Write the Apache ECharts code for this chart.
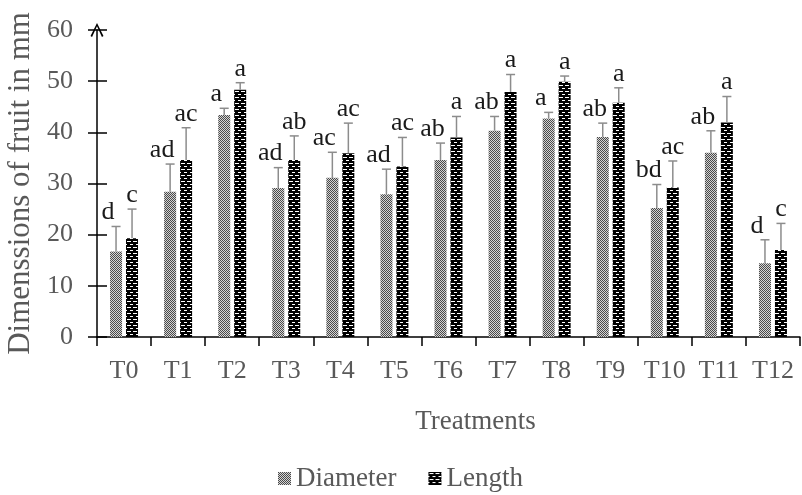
<!DOCTYPE html>
<html>
<head>
<meta charset="utf-8">
<script src="https://cdn.jsdelivr.net/npm/echarts@6/dist/echarts.min.js"></script>
<style>
  html, body { margin: 0; padding: 0; background: #fff; }
  #chart { width: 802px; height: 495px; }
</style>
</head>
<body>
<div id="chart"></div>
<script>
// 数据
const categories = ['T0', 'T1', 'T2', 'T3', 'T4', 'T5', 'T6', 'T7', 'T8', 'T9', 'T10', 'T11', 'T12']
const diameter = [16.7, 28.4, 43.4, 29.1, 31.1, 27.9, 34.6, 40.3, 42.7, 39.1, 25.2, 36.0, 14.4]
const diameterErr = [4.9, 5.4, 1.3, 4.0, 5.0, 4.9, 3.3, 2.8, 1.2, 2.7, 4.6, 4.3, 4.6]
const diameterLetters = ['d', 'ad', 'a', 'ad', 'ac', 'ad', 'ab', 'ab', 'a', 'ab', 'bd', 'ab', 'd']
const length = [19.3, 34.6, 48.3, 34.6, 35.9, 33.3, 39.0, 47.9, 49.9, 45.8, 29.2, 41.9, 17.0]
const lengthErr = [5.7, 6.3, 1.4, 4.7, 5.9, 5.7, 4.1, 3.4, 1.1, 2.9, 5.2, 5.1, 5.2]
const lengthLetters = ['c', 'ac', 'a', 'ab', 'ac', 'ac', 'a', 'a', 'a', 'a', 'ac', 'a', 'c']
const yTicks = [0, 10, 20, 30, 40, 50, 60]

const FONT = '"Liberation Serif", "DejaVu Serif", serif'
const GREY = '#595959'

// 填充图案
const makePattern = (size, draw) => {
  const c = document.createElement('canvas')
  c.width = size
  c.height = size
  draw(c.getContext('2d'))
  return { image: c, repeat: 'repeat' }
}

const diameterFill = makePattern(2, ctx => {
  ctx.fillStyle = '#d4d4d4'
  ctx.fillRect(0, 0, 2, 2)
  ctx.fillStyle = '#4a4a4a'
  ctx.fillRect(0, 0, 1, 1)
  ctx.fillRect(1, 1, 1, 1)
})

const lengthFill = makePattern(6, ctx => {
  ctx.fillStyle = '#000'
  ctx.fillRect(0, 0, 6, 6)
  ctx.fillStyle = '#fff'
  ctx.fillRect(1, 1, 4, 1)
  ctx.fillRect(4, 4, 2, 1)
  ctx.fillRect(0, 4, 1, 1)
})

// 误差线 + 字母
const errRender = (offset, labelShift) => (params, api) => {
  const i = api.value(0)
  const v = api.value(1)
  const e = api.value(2)
  const x = api.coord([i, 0])[0] + offset
  const y0 = api.coord([i, v])[1]
  const y1 = api.coord([i, v + e])[1]
  return {
    type: 'group',
    children: [
      { type: 'line', shape: { x1: x, y1: y0, x2: x, y2: y1 }, style: { stroke: '#8c8c8c', lineWidth: 1.5 } },
      { type: 'line', shape: { x1: x - 4.5, y1: y1, x2: x + 4.5, y2: y1 }, style: { stroke: '#8c8c8c', lineWidth: 1.5 } },
      {
        type: 'text',
        style: {
          text: api.value(3),
          x: x + labelShift,
          y: y1 - 1,
          align: 'center',
          verticalAlign: 'bottom',
          font: '26px ' + FONT,
          fill: '#1a1a1a',
        },
      },
    ],
  }
}

let chart = echarts.init(document.getElementById('chart'))
let option = {
  animation: false,
  textStyle: { fontFamily: FONT },
  grid: {
    top: 30,
    left: 97,
    right: 2,
    bottom: 158,
    containLabel: false,
    outerBoundsMode: 'none',
  },
  legend: {
    bottom: -2,
    left: 273,
    itemWidth: 13,
    itemHeight: 13,
    itemGap: 32,
    textStyle: { fontFamily: FONT, fontSize: 27, color: GREY },
    data: [
      { name: 'Diameter', icon: 'rect' },
      { name: 'Length', icon: 'rect' },
    ],
  },
  xAxis: {
    type: 'category',
    data: categories,
    name: 'Treatments',
    nameLocation: 'middle',
    nameGap: 71,
    nameTextStyle: { fontFamily: FONT, fontSize: 27, color: GREY, padding: [0, 0, 0, 54] },
    axisLine: { lineStyle: { color: '#000', width: 1.5 } },
    axisTick: { show: true, length: 9, lineStyle: { color: '#000', width: 1.5 } },
    axisLabel: { interval: 0, fontFamily: FONT, fontSize: 26, color: GREY, margin: 21 },
  },
  yAxis: [
    {
      type: 'value',
      min: yTicks[0],
      max: yTicks[yTicks.length - 1],
      interval: 10,
      name: 'Dimenssions of fruit in mm',
      nameLocation: 'middle',
      nameGap: 59,
      nameTextStyle: { fontFamily: FONT, fontSize: 31, color: GREY },
      splitLine: { show: false },
      axisLine: {
        show: true,
        symbol: ['none', 'path://M0,10 L5,0 L10,10 L8.8,10.6 L5,2.4 L1.2,10.6 Z'],
        symbolSize: [13, 14],
        symbolOffset: [0, 0],
        lineStyle: { color: '#000', width: 1.5 },
      },
      axisTick: { show: true, length: 9, lineStyle: { color: '#000', width: 1.5 } },
      axisLabel: { fontFamily: FONT, fontSize: 26, color: GREY, margin: 24 },
    },
    {
      type: 'value',
      position: 'left',
      min: yTicks[0],
      max: yTicks[yTicks.length - 1],
      interval: 10,
      splitLine: { show: false },
      axisLine: { show: false },
      axisTick: { show: true, inside: true, length: 10, lineStyle: { color: '#000', width: 1.5 } },
      axisLabel: { show: false },
    },
  ],
  series: [
    {
      name: 'Diameter',
      type: 'bar',
      data: diameter,
      barWidth: 12,
      barGap: '33%',
      itemStyle: { color: diameterFill },
    },
    {
      name: 'Length',
      type: 'bar',
      data: length,
      barWidth: 12,
      barGap: '33%',
      itemStyle: { color: lengthFill },
    },
    {
      type: 'custom',
      renderItem: errRender(-8, -8),
      encode: { x: 0, y: 1 },
      data: categories.map((c, i) => [i, diameter[i], diameterErr[i], diameterLetters[i]]),
      z: 5,
    },
    {
      type: 'custom',
      renderItem: errRender(8, 0),
      encode: { x: 0, y: 1 },
      data: categories.map((c, i) => [i, length[i], lengthErr[i], lengthLetters[i]]),
      z: 5,
    },
  ],
}
chart.setOption(option)
</script>
</body>
</html>
